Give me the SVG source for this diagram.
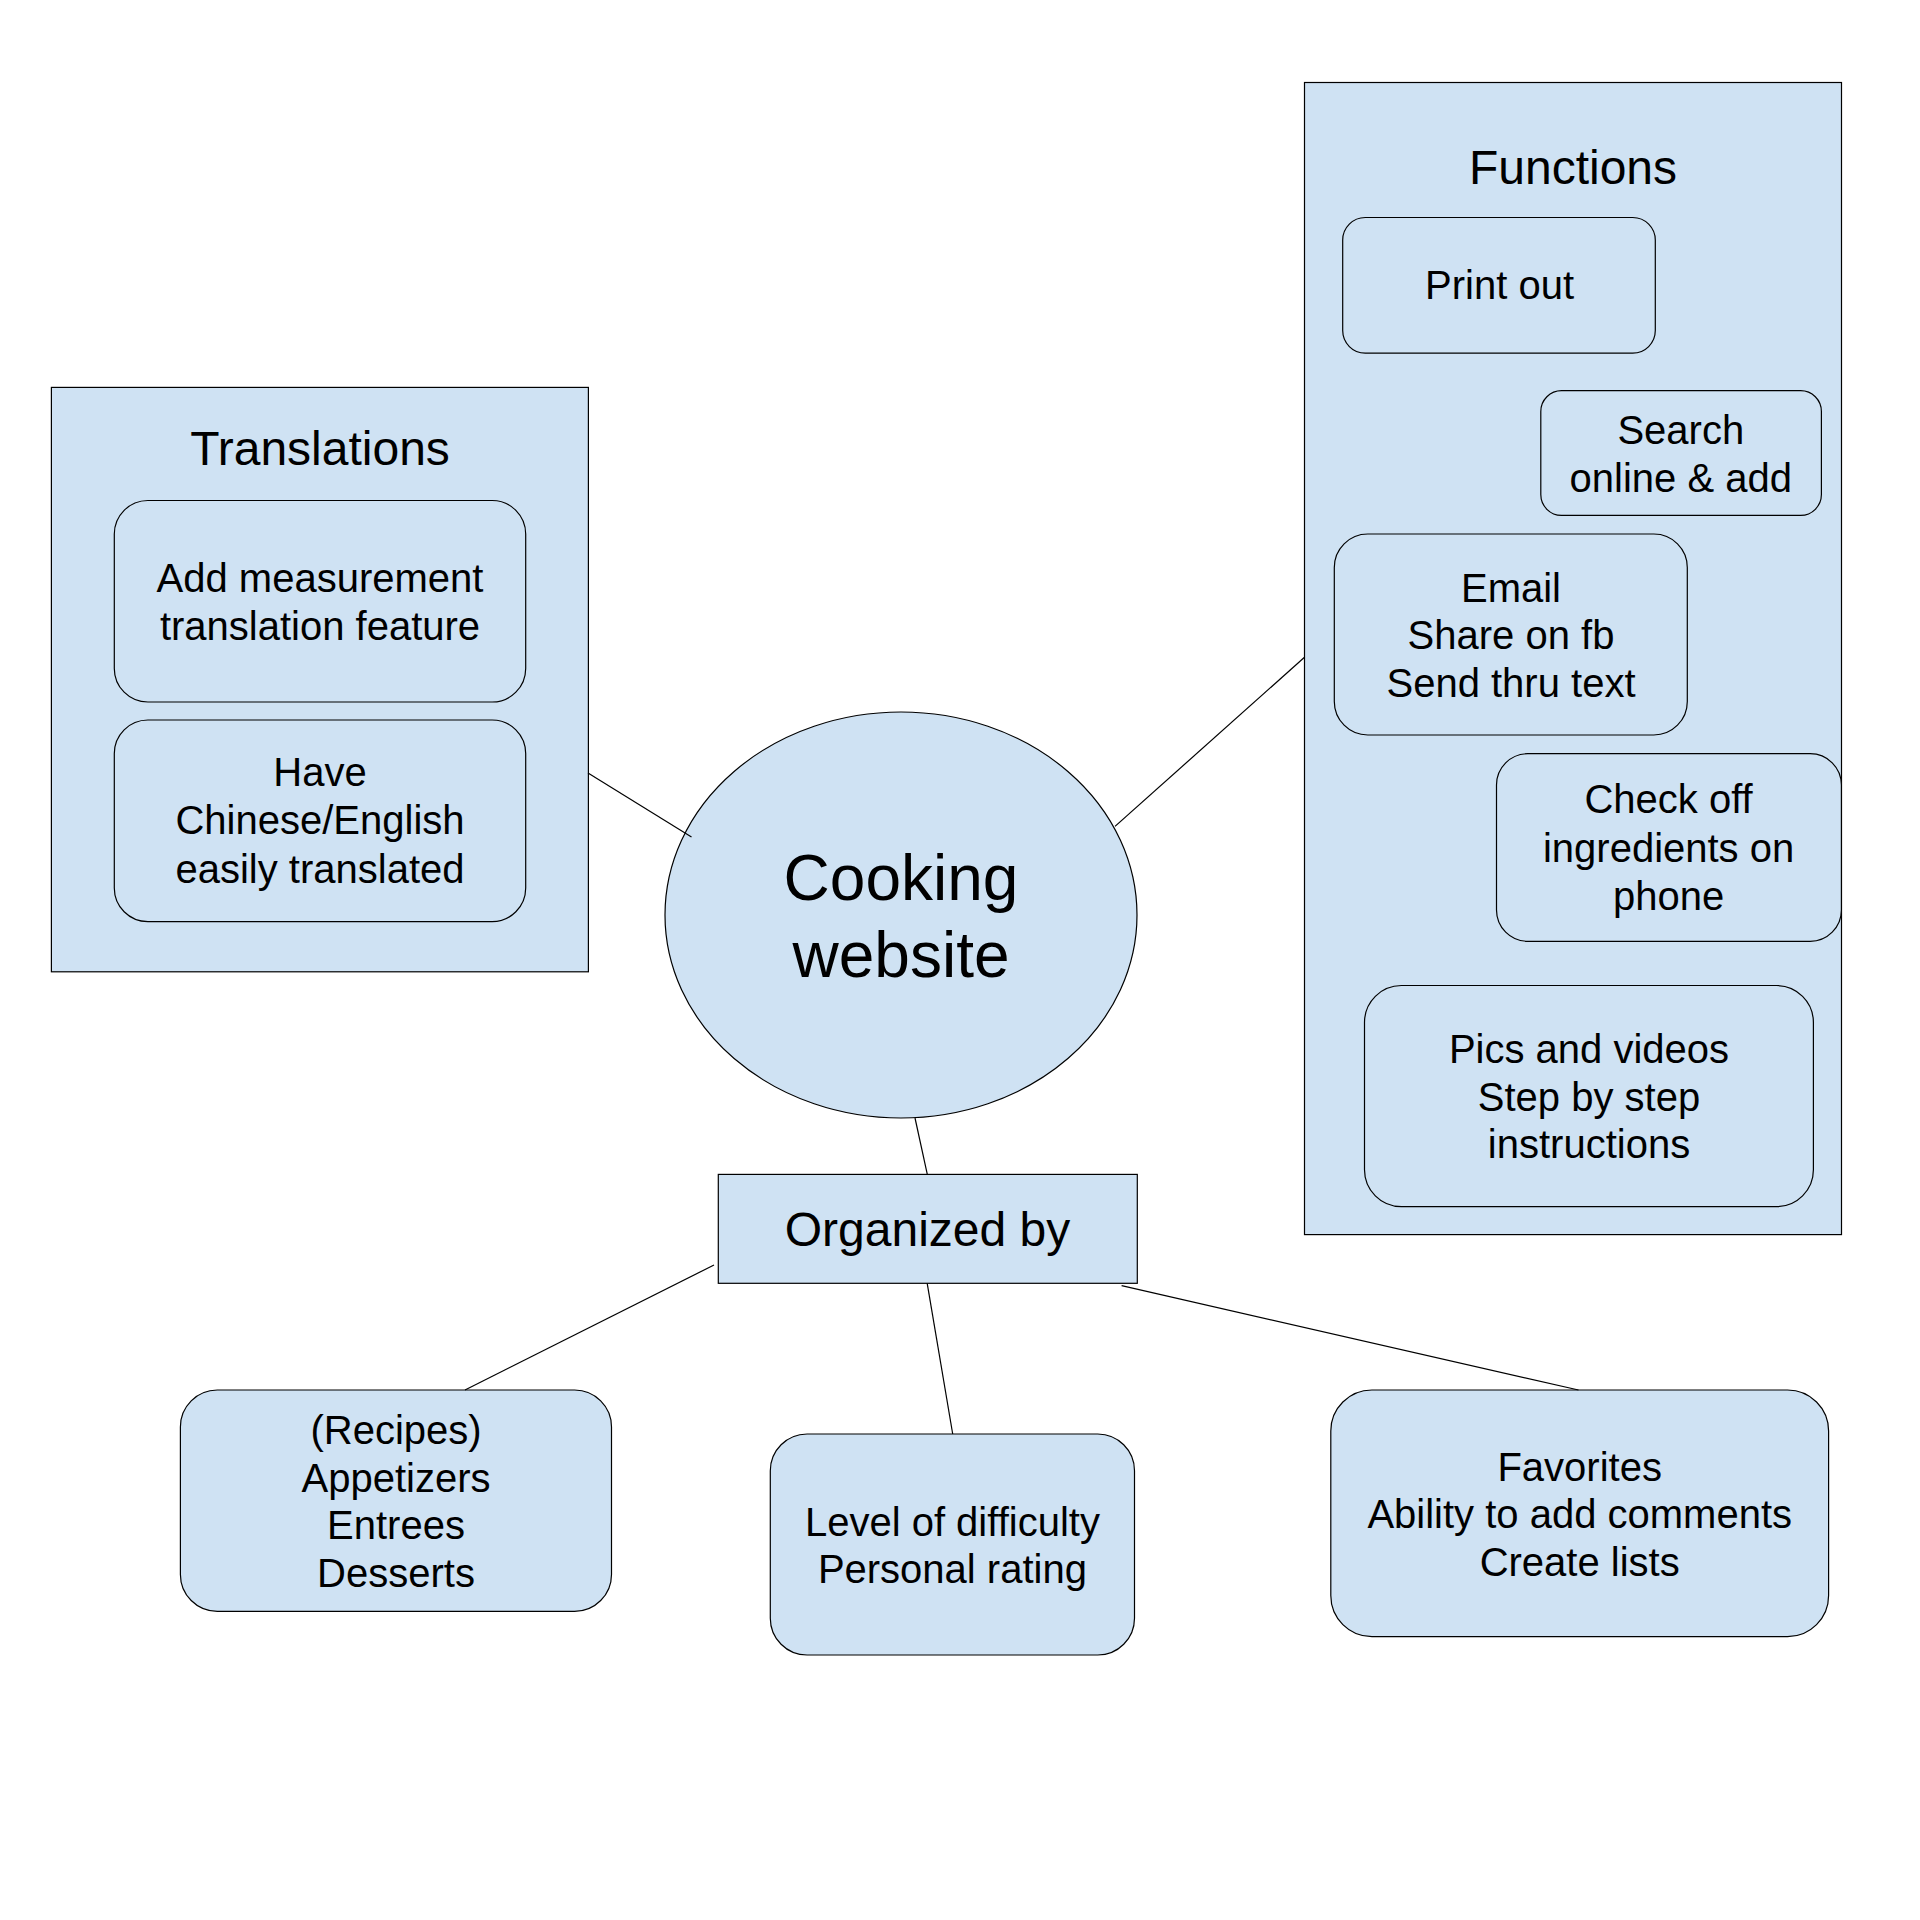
<svg xmlns="http://www.w3.org/2000/svg" width="1920" height="1920" viewBox="0 0 1920 1920">
<style>
.shape{fill:#cfe2f3;stroke:#000;stroke-width:1.2}
.conn{stroke:#000;stroke-width:1.2;fill:none}
text{font-family:"Liberation Sans",Arial,sans-serif;fill:#000;text-anchor:middle}
.s{font-size:40px}
.t{font-size:48px}
.c{font-size:64px}
</style>
<rect width="1920" height="1920" fill="#fff"/>
<g id="translations">
<rect class="shape" x="51.4" y="387.4" width="537" height="584.4"/>
<text class="t" x="320" y="465">Translations</text>
</g>
<g id="measurement">
<rect class="shape" x="114.3" y="500.5" width="411.4" height="201.5" rx="33.6"/>
<text class="s" x="320" y="592">Add measurement</text>
<text class="s" x="320" y="639.5">translation feature</text>
</g>
<g id="chinese-english">
<rect class="shape" x="114.3" y="720" width="411.4" height="201.6" rx="33.6"/>
<text class="s" x="320" y="786">Have</text>
<text class="s" x="320" y="834">Chinese/English</text>
<text class="s" x="320" y="882.5">easily translated</text>
</g>
<g id="functions">
<rect class="shape" x="1304.5" y="82.5" width="537" height="1152.1"/>
<text class="t" x="1573" y="183.6">Functions</text>
</g>
<g id="print-out">
<rect class="shape" x="1342.7" y="217.5" width="312.6" height="135.7" rx="22.6"/>
<text class="s" x="1499.6" y="299">Print out</text>
</g>
<g id="search">
<rect class="shape" x="1540.8" y="390.7" width="280.6" height="124.7" rx="20.8"/>
<text class="s" x="1680.8" y="443.5">Search</text>
<text class="s" x="1680.8" y="491.5">online &amp; add</text>
</g>
<g id="share">
<rect class="shape" x="1334.3" y="534" width="353" height="201" rx="33.5"/>
<text class="s" x="1511" y="601.5">Email</text>
<text class="s" x="1511" y="649">Share on fb</text>
<text class="s" x="1511" y="696.5">Send thru text</text>
</g>
<g id="check-off">
<rect class="shape" x="1496.5" y="753.7" width="344.9" height="187.6" rx="31.3"/>
<text class="s" x="1668.6" y="813">Check off</text>
<text class="s" x="1668.6" y="861.5">ingredients on</text>
<text class="s" x="1668.6" y="909.5">phone</text>
</g>
<g id="pics">
<rect class="shape" x="1364.5" y="985.5" width="448.9" height="221.2" rx="36.9"/>
<text class="s" x="1589" y="1063">Pics and videos</text>
<text class="s" x="1589" y="1110.5">Step by step</text>
<text class="s" x="1589" y="1158">instructions</text>
</g>
<g id="cooking-website">
<ellipse class="shape" cx="901" cy="915" rx="236" ry="203"/>
<text class="c" x="901" y="900">Cooking</text>
<text class="c" x="901" y="977">website</text>
</g>
<g id="organized-by">
<rect class="shape" x="718.3" y="1174.4" width="419" height="108.9"/>
<text class="t" x="927.5" y="1245.5">Organized by</text>
</g>
<g id="recipes">
<rect class="shape" x="180.4" y="1390" width="431.1" height="221.3" rx="36.9"/>
<text class="s" x="396" y="1444">(Recipes)</text>
<text class="s" x="396" y="1491.5">Appetizers</text>
<text class="s" x="396" y="1539">Entrees</text>
<text class="s" x="396" y="1586.5">Desserts</text>
</g>
<g id="difficulty">
<rect class="shape" x="770.3" y="1434" width="364.2" height="221" rx="36.8"/>
<text class="s" x="952.4" y="1535.5">Level of difficulty</text>
<text class="s" x="952.4" y="1583">Personal rating</text>
</g>
<g id="favorites">
<rect class="shape" x="1330.8" y="1390" width="497.8" height="246.7" rx="41.1"/>
<text class="s" x="1579.7" y="1480.5">Favorites</text>
<text class="s" x="1579.7" y="1528">Ability to add comments</text>
<text class="s" x="1579.7" y="1575.5">Create lists</text>
</g>
<g id="connectors">
<line class="conn" x1="588" y1="773" x2="691.5" y2="837"/>
<line class="conn" x1="1115" y1="826.4" x2="1304.5" y2="657.3"/>
<line class="conn" x1="915" y1="1118" x2="927.3" y2="1174.4"/>
<line class="conn" x1="714" y1="1265" x2="465" y2="1390"/>
<line class="conn" x1="927.2" y1="1283.3" x2="952.7" y2="1434"/>
<line class="conn" x1="1121.6" y1="1285.7" x2="1578.5" y2="1390"/>
</g>
</svg>
